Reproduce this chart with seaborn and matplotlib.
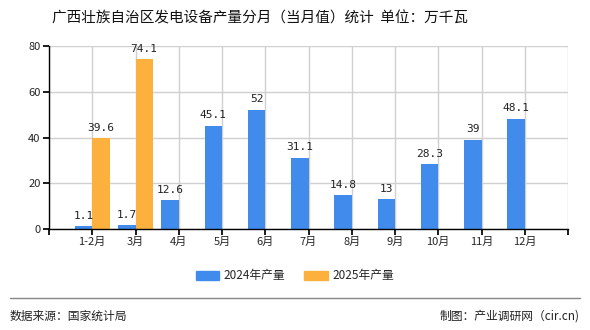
import matplotlib
matplotlib.use("Agg")
import matplotlib.pyplot as plt
import seaborn as sns
import pandas as pd
import numpy as np

months = ["1-2月", "3月", "4月", "5月", "6月", "7月", "8月", "9月", "10月", "11月", "12月"]
v2024 = [1.1, 1.7, 12.6, 45.1, 52, 31.1, 14.8, 13, 28.3, 39, 48.1]
v2025 = [39.6, 74.1, None, None, None, None, None, None, None, None, None]
series = ["2024年产量", "2025年产量"]
colors = ["#418BEC", "#FCB13F"]
title = "广西壮族自治区发电设备产量分月（当月值）统计  单位：万千瓦"
yticks = [0, 20, 40, 60, 80]

sns.set_theme(style="white")
plt.rcParams['font.family'] = ['Noto Sans CJK SC', 'DejaVu Sans']

rows = []
for m, a, b in zip(months, v2024, v2025):
    rows.append({"month": m, "series": series[0], "value": a})
    rows.append({"month": m, "series": series[1], "value": np.nan if b is None else b})
df = pd.DataFrame(rows)

fig = plt.figure(figsize=(5.9, 3.3), dpi=100)
ax = fig.add_axes([49/590, 1-229/330, (568-49)/590, (229-46)/330])
sns.barplot(data=df, x="month", y="value", hue="series", order=months,
            hue_order=series, palette=colors, width=0.8, saturation=1,
            linewidth=0, edgecolor="none", ax=ax, legend=True)

ax.set_xlim(-1, len(months))
ax.set_ylim(0, 80)
ax.set_yticks(yticks)
ax.set_xlabel("")
ax.set_ylabel("")
ax.set_xticks(range(-1, len(months) + 1))
ax.set_xticklabels([""] + months + [""])
ax.tick_params(axis="x", length=4, color="black", labelsize=8, pad=2, direction="out", bottom=True)
ax.tick_params(axis="y", length=4, color="black", labelsize=8, pad=2, direction="out", left=True)
ax.grid(True, color="#d0d0d0", linewidth=1)
ax.set_axisbelow(True)
for s in ["top", "right"]:
    ax.spines[s].set_visible(False)
for s in ["left", "bottom"]:
    ax.spines[s].set_color("black")
    ax.spines[s].set_linewidth(1)

for cont in ax.containers:
    labels = []
    for bar in cont:
        h = bar.get_height()
        if np.isnan(h):
            labels.append("")
        else:
            labels.append(f"{h:g}")
    ax.bar_label(cont, labels=labels, padding=4, fontsize=8,
                 family=['DejaVu Sans Mono'], color="#222222")

ax.legend_.remove()
handles = [plt.Rectangle((0, 0), 1, 1, color=c) for c in colors]
fig.legend(handles, series, loc="center", bbox_to_anchor=(0.5, 1-276/330),
           ncol=2, frameon=False, fontsize=8.5, handlelength=2.0, handleheight=0.8,
           columnspacing=1.6, handletextpad=0.4)

fig.text(260/590, 1-18/330, title, ha="center", va="center", fontsize=10.5, color="#111111")
fig.add_artist(plt.Line2D([10/590, 580/590], [1-298/330, 1-298/330], color="#888888", linewidth=1))
fig.text(10/590, 1-316/330, "数据来源：国家统计局", ha="left", va="center", fontsize=8.5, color="#222222")
fig.text(580/590, 1-316/330, "制图：产业调研网（cir.cn)", ha="right", va="center", fontsize=8.5, color="#222222")

fig.savefig("out.png", dpi=100)
